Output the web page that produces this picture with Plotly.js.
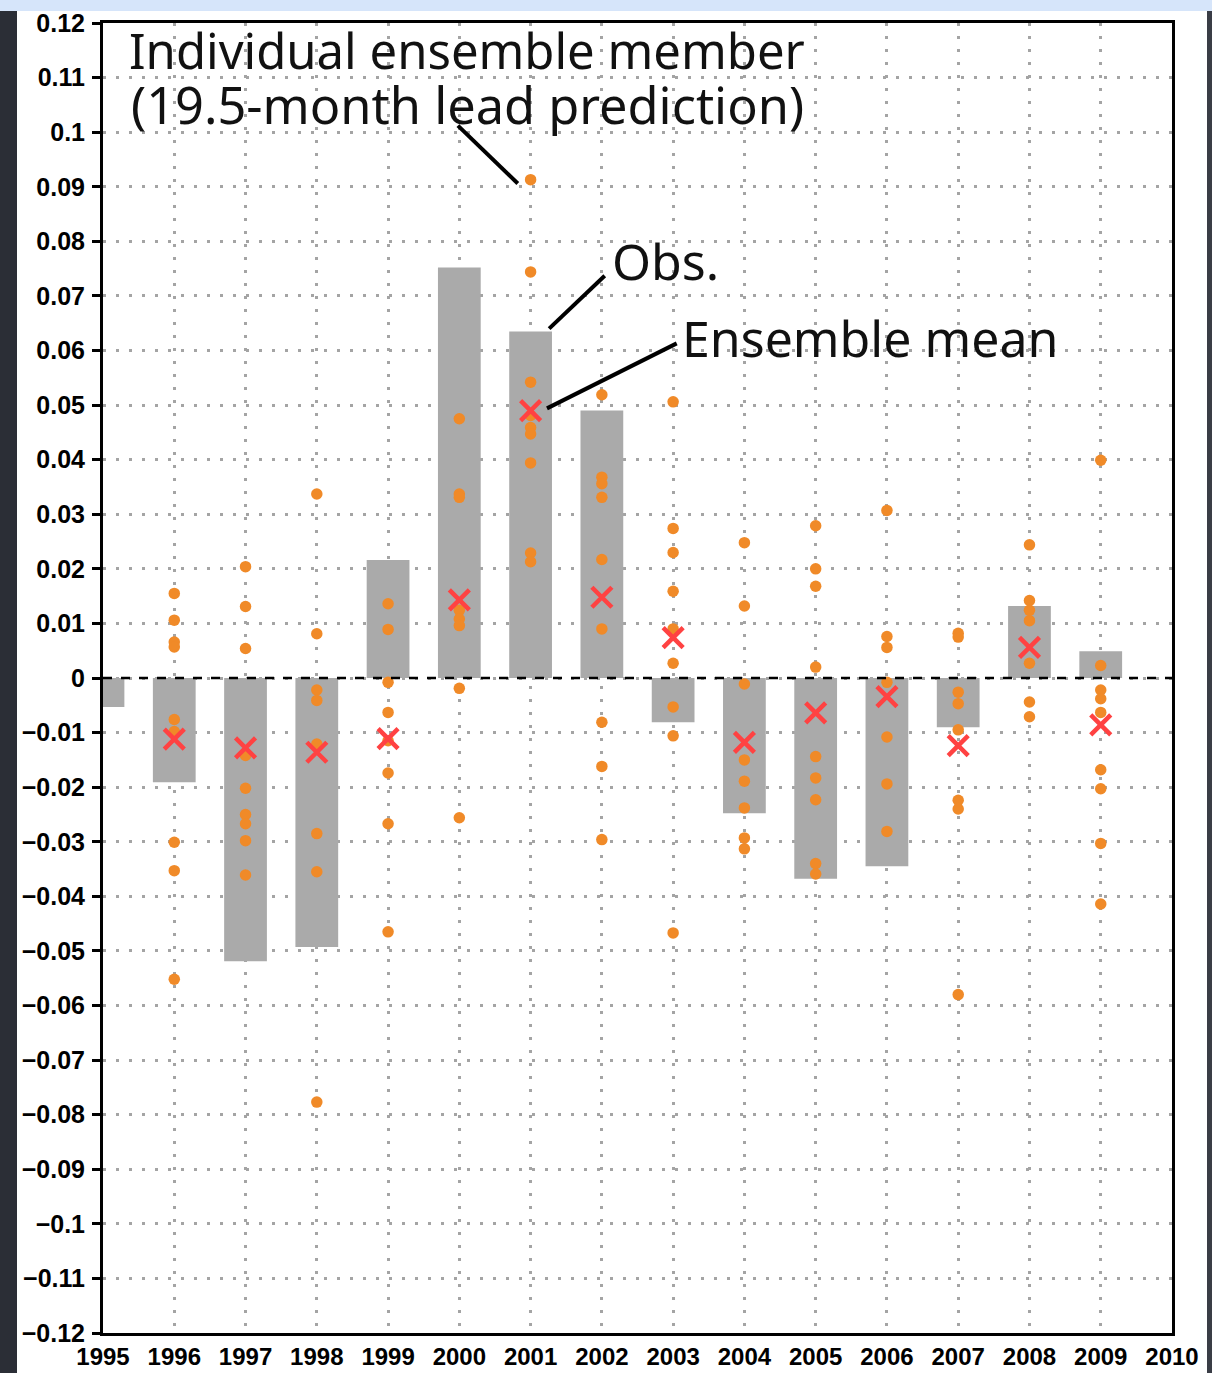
<!DOCTYPE html>
<html>
<head>
<meta charset="utf-8">
<script src="https://cdn.plot.ly/plotly-3.0.1.min.js"></script>
<style>
  html, body { margin: 0; padding: 0; background: #ffffff; }
  #topstrip { position: absolute; left: 0; top: 0; width: 1212px; height: 11px; background: #d6e5fa; }
  #leftstrip { position: absolute; left: 0; top: 11px; width: 17px; height: 1362px; background: #2b2e36; }
  #rightstrip { position: absolute; left: 1207px; top: 11px; width: 5px; height: 1362px; background: #3a3d46; }
  #chart { position: absolute; left: 0; top: 0; width: 1212px; height: 1373px; }
</style>
</head>
<body>
<div id="topstrip"></div>
<div id="leftstrip"></div>
<div id="rightstrip"></div>
<div id="chart"></div>
<script>
// Observed values (grey bars)
const obsYears = [1995, 1996, 1997, 1998, 1999, 2000, 2001, 2002, 2003, 2004, 2005, 2006, 2007, 2008, 2009];
const obsValues = [-0.0053, -0.0191, -0.0519, -0.0493, 0.0216, 0.0752, 0.0635, 0.0490, -0.0081, -0.0248, -0.0368, -0.0345, -0.0090, 0.0132, 0.0049];

// Ensemble mean (red crosses)
const meanYears = [1996, 1997, 1998, 1999, 2000, 2001, 2002, 2003, 2004, 2005, 2006, 2007, 2008, 2009];
const meanValues = [-0.0112, -0.0128, -0.0136, -0.0111, 0.0143, 0.0490, 0.0148, 0.0074, -0.0118, -0.0064, -0.0034, -0.0124, 0.0056, -0.0086];

// Individual ensemble members (orange dots), one list per year
const memberYears = [1996, 1997, 1998, 1999, 2000, 2001, 2002, 2003, 2004, 2005, 2006, 2007, 2008, 2009];
const memberValues = [
  [0.0155, 0.0106, 0.0066, 0.0057, -0.0076, -0.0098, -0.0301, -0.0353, -0.0552],
  [0.0204, 0.0131, 0.0054, -0.0142, -0.0202, -0.0250, -0.0267, -0.0298, -0.0361],
  [0.0337, 0.0081, -0.0022, -0.0041, -0.0121, -0.0285, -0.0355, -0.0777],
  [0.0136, 0.0089, -0.0008, -0.0063, -0.0115, -0.0174, -0.0267, -0.0465],
  [0.0475, 0.0337, 0.0331, 0.0124, 0.0108, 0.0096, -0.0019, -0.0256],
  [0.0913, 0.0744, 0.0542, 0.0481, 0.0459, 0.0447, 0.0394, 0.0229, 0.0213],
  [0.0519, 0.0368, 0.0356, 0.0331, 0.0217, 0.0090, -0.0081, -0.0162, -0.0296],
  [0.0506, 0.0274, 0.0230, 0.0159, 0.0090, 0.0027, -0.0053, -0.0106, -0.0467],
  [0.0248, 0.0132, -0.0011, -0.0150, -0.0189, -0.0238, -0.0293, -0.0313],
  [0.0279, 0.0200, 0.0168, 0.0020, -0.0144, -0.0183, -0.0223, -0.0340, -0.0359],
  [0.0307, 0.0076, 0.0056, -0.0008, -0.0108, -0.0194, -0.0281],
  [0.0082, 0.0075, -0.0026, -0.0047, -0.0095, -0.0224, -0.0240, -0.0580],
  [0.0244, 0.0142, 0.0124, 0.0105, 0.0027, -0.0044, -0.0071],
  [0.0399, 0.0023, -0.0022, -0.0038, -0.0063, -0.0168, -0.0203, -0.0303, -0.0414]
];

// Annotation labels
const labelMember1 = "Individual ensemble member";
const labelMember2 = "(19.5-month lead prediction)";
const labelObs = "Obs.";
const labelMean = "Ensemble mean";

const mx = [], my = [];
memberYears.forEach((yr, i) => {
  memberValues[i].forEach(v => { mx.push(yr); my.push(v); });
});

const yTickFont = { family: "Liberation Sans, Arial, sans-serif", size: 25, color: "#000", weight: "bold" };
const xTickFont = { family: "Liberation Sans, Arial, sans-serif", size: 24, color: "#000", weight: "bold" };
const annFontA = { family: "Noto Sans, sans-serif", size: 49, color: "#111" };
const annFontA2 = { family: "Noto Sans, sans-serif", size: 50.5, color: "#111" };
const annFontB = { family: "Noto Sans, sans-serif", size: 50, color: "#111" };

const traces = [
  {
    type: "bar", x: obsYears, y: obsValues, width: 0.6,
    marker: { color: "#aaaaaa", line: { width: 0 } },
    showlegend: false
  },
  {
    type: "scatter", mode: "markers", x: mx, y: my,
    marker: { color: "#f08a28", size: 11.5 },
    cliponaxis: true, showlegend: false
  },
  {
    type: "scatter", mode: "markers", x: meanYears, y: meanValues,
    marker: { symbol: "x-thin", size: 20, color: "#ff4242", line: { color: "#ff4242", width: 4.5 } },
    showlegend: false
  }
];

const gridDash = "3px,10px";

const layout = {
  width: 1212, height: 1373,
  margin: { l: 103, r: 40, t: 23, b: 40, pad: 0 },
  paper_bgcolor: "rgba(0,0,0,0)",
  plot_bgcolor: "#ffffff",
  showlegend: false,
  xaxis: {
    range: [1995, 2010], tickmode: "linear", tick0: 1995, dtick: 1,
    showgrid: true, gridcolor: "#a4a4a4", gridwidth: 3, griddash: gridDash,
    zeroline: false, showline: true, linecolor: "#000", linewidth: 3, mirror: true,
    ticks: "", ticklabelstandoff: 0,
    tickfont: xTickFont, fixedrange: true
  },
  yaxis: {
    range: [-0.12, 0.12], tickmode: "linear", tick0: 0, dtick: 0.01,
    showgrid: true, gridcolor: "#a4a4a4", gridwidth: 3, griddash: gridDash,
    zeroline: false, showline: true, linecolor: "#000", linewidth: 3, mirror: true,
    ticks: "outside", ticklen: 8, tickwidth: 3, tickcolor: "#000",
    tickfont: yTickFont, ticklabelstandoff: 2, fixedrange: true
  },
  shapes: [
    { type: "line", xref: "x", yref: "y", x0: 1995, x1: 2010, y0: 0, y1: 0,
      line: { color: "#000", width: 2.5, dash: "dash" }, layer: "above" },
    { type: "line", xref: "x", yref: "y", x0: 1999.98, y0: 0.1012, x1: 2000.82, y1: 0.0906,
      line: { color: "#000", width: 4 } },
    { type: "line", xref: "x", yref: "y", x0: 2002.04, y0: 0.0737, x1: 2001.26, y1: 0.0640,
      line: { color: "#000", width: 4 } },
    { type: "line", xref: "x", yref: "y", x0: 2003.05, y0: 0.0613, x1: 2001.23, y1: 0.0494,
      line: { color: "#000", width: 4 } }
  ],
  annotations: [
    { x: 1995.34, y: 0.1151, xref: "x", yref: "y", xanchor: "left", yanchor: "middle",
      text: labelMember1, showarrow: false, font: annFontA },
    { x: 1995.36, y: 0.1050, xref: "x", yref: "y", xanchor: "left", yanchor: "middle",
      text: labelMember2, showarrow: false, font: annFontA2 },
    { x: 2002.12, y: 0.0764, xref: "x", yref: "y", xanchor: "left", yanchor: "middle",
      text: labelObs, showarrow: false, font: annFontB },
    { x: 2003.10, y: 0.0623, xref: "x", yref: "y", xanchor: "left", yanchor: "middle",
      text: labelMean, showarrow: false, font: annFontB }
  ]
};

Plotly.newPlot("chart", traces, layout, { displayModeBar: false, staticPlot: true });
</script>
</body>
</html>
